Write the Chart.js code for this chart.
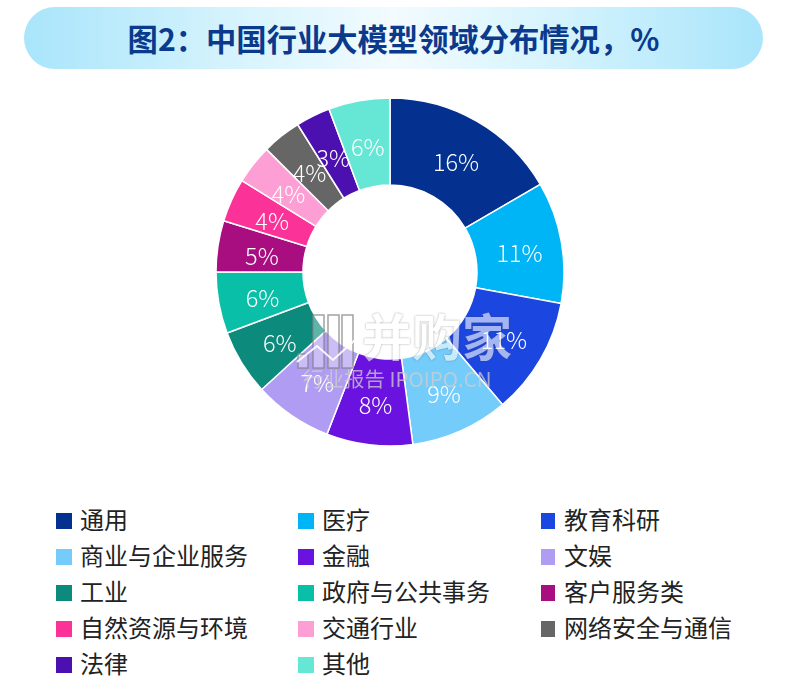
<!DOCTYPE html>
<html><head><meta charset="utf-8">
<script src="https://cdn.jsdelivr.net/npm/chart.js@4"></script>
<style>
html,body{margin:0;padding:0;background:#fff;width:805px;height:698px;overflow:hidden;font-family:"Noto Sans CJK SC",sans-serif}
#title{position:absolute;left:24px;top:7px;width:739px;height:62px;border-radius:31px;background:linear-gradient(90deg,#a9e5fb 0%,#d8f4fd 30%,#f2fbff 50%,#d8f4fd 70%,#a9e5fb 100%);color:#0b3a8c;font-weight:700;font-size:30.3px;line-height:62px;text-align:center}
#wrap{position:absolute;left:190px;top:72px;width:400px;height:400px}
#wm{position:absolute;left:295px;top:304px;width:220px;pointer-events:none}
#wm .a{font-size:50px;line-height:60px;font-weight:700;white-space:nowrap;padding-left:67px;color:#fff;opacity:.6;text-shadow:0 0 2px rgba(70,70,70,.9)}
#wm .b{font-size:20.5px;line-height:22px;color:rgba(205,205,205,.75);margin-top:3px;margin-left:8px;white-space:nowrap}
#wm svg{position:absolute;left:0;top:0}
#legend div{position:absolute;font-size:24px;line-height:30px;color:#222;white-space:nowrap}
#legend i{position:absolute;left:-25px;top:9px;width:16px;height:16px}
</style></head><body>
<div id="title">图2：中国行业大模型领域分布情况，%</div>
<div id="wrap"><canvas id="c" width="400" height="400"></canvas></div>
<div id="wm"><svg width="66" height="70" fill="rgba(255,255,255,.35)" stroke="rgba(130,130,130,.75)" stroke-width="1.5"><rect x="3" y="50" width="10" height="14"/><rect x="18" y="11" width="11" height="53"/><rect x="33" y="11" width="11" height="53"/><rect x="47" y="11" width="11" height="53"/><polyline points="2,58 22,42 38,56 60,36" fill="none" stroke="rgba(255,255,255,.9)" stroke-width="2"/></svg><div class="a">并购家</div><div class="b">行业报告 IPOIPO.CN</div></div>
<div id="legend"></div>
<script>
const categories=["通用","医疗","教育科研","商业与企业服务","金融","文娱","工业","政府与公共事务","客户服务类","自然资源与环境","交通行业","网络安全与通信","法律","其他"];
const sliceShares=[16.6,11.3,10.9,9.1,8,7.3,6.1,5.7,4.75,4.05,3.65,3.65,3.2,5.7];
const printedLabels=["16%","11%","11%","9%","8%","7%","6%","6%","5%","4%","4%","4%","3%","6%"];
const colors=["#04318f","#00b5f5","#1c46e0","#74ccfb","#6a12e0","#b09cf3","#0c8a7c","#0abfa8","#a90e80","#fb3297","#fd9fd4","#666666","#4c0fb0","#66e6d4"];
const ringLabels={id:'ringLabels',afterDatasetsDraw(ch){const x=ch.ctx;x.save();x.fillStyle='#fff';x.font='300 23.5px "Noto Sans CJK SC",sans-serif';x.textAlign='center';x.textBaseline='middle';
ch.getDatasetMeta(0).data.forEach((a,i)=>{const p=a.getCenterPoint();x.fillText(printedLabels[i],p.x+1,p.y+3)});x.restore()}};
new Chart(document.getElementById('c'),{type:'doughnut',data:{labels:categories,datasets:[{data:sliceShares,backgroundColor:colors,borderColor:'#fff',borderWidth:1.5}]},
options:{responsive:false,animation:false,cutout:'50%',radius:174,layout:{padding:0},plugins:{legend:{display:false},tooltip:{enabled:false},title:{display:false}}},plugins:[ringLabels]});
const legendX=[80,322,564],legendY=[520.5,556.7,593,628.7,665];
const swatchLeft=[-24,-24,-23],swatchWidth=[16,16,14];
const lg=document.getElementById('legend');
categories.forEach((n,i)=>{const c=i%3;const d=document.createElement('div');d.style.left=legendX[c]+'px';d.style.top=(legendY[Math.floor(i/3)]-17)+'px';d.textContent=n;const s=document.createElement('i');s.style.background=colors[i];s.style.left=swatchLeft[c]+'px';s.style.width=swatchWidth[c]+'px';d.appendChild(s);lg.appendChild(d)});
</script></body></html>
